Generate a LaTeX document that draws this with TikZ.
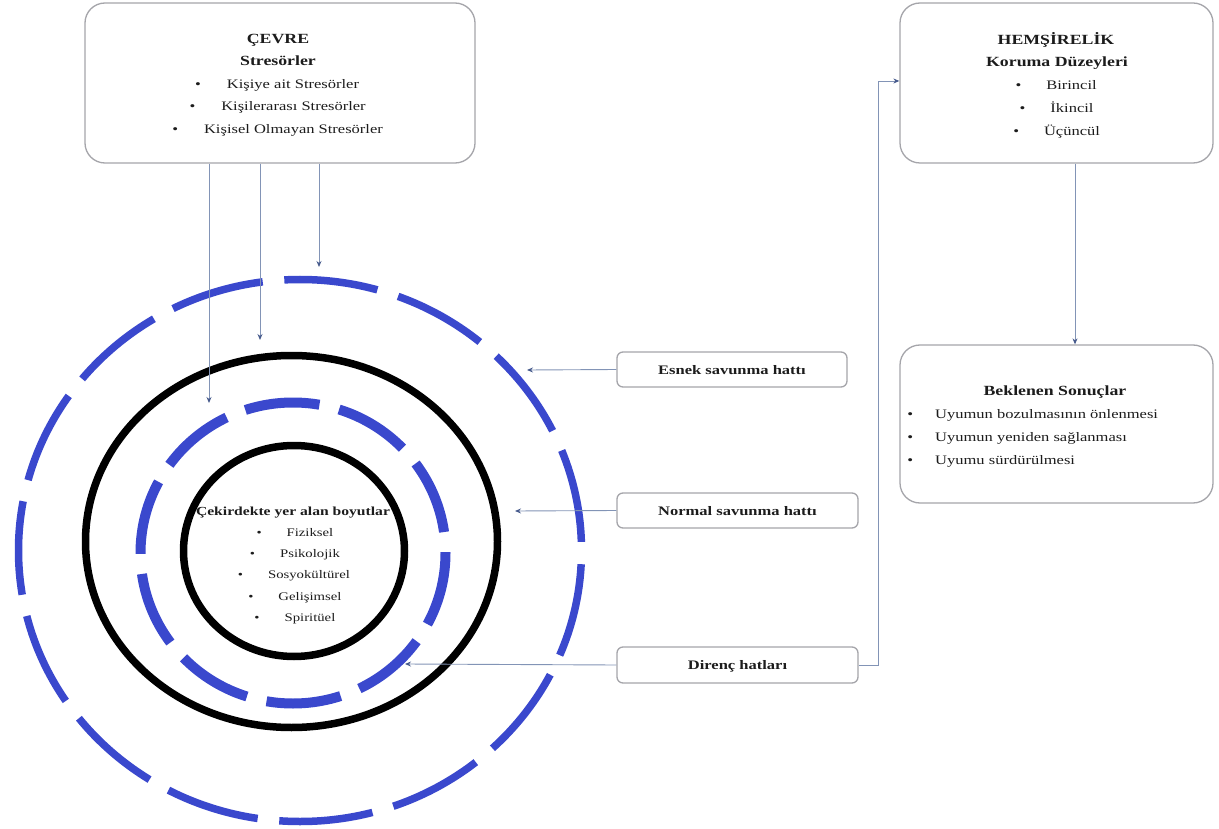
\documentclass[tikz,border=0pt]{standalone}
\usepackage{fontspec}
\setmainfont{Liberation Serif}[FakeStretch=1.27]
\usetikzlibrary{arrows.meta}
\definecolor{ringblue}{RGB}{58,72,205}
\definecolor{boxgray}{RGB}{165,165,170}
\definecolor{arrc}{RGB}{130,148,182}
\definecolor{tipc}{RGB}{70,90,140}
\definecolor{txtc}{RGB}{28,28,28}
\newcommand\mybul[1]{\llap{\textbullet\hspace{#1}}}
\tikzset{
  bigbox/.style={draw=boxgray, line width=1.3pt, rounded corners=20pt, fill=white, inner sep=0pt},
  smallbox/.style={draw=boxgray, line width=1.3pt, rounded corners=6pt, fill=white, inner sep=0pt},
  ln/.style={anchor=base, inner sep=0pt, text=txtc, font=\fontsize{13}{15}\selectfont},
  bln/.style={anchor=base, inner sep=0pt, text=txtc, font=\fontsize{14}{16}\selectfont\bfseries},
  sbln/.style={anchor=base, inner sep=0pt, text=txtc, font=\fontsize{13}{15}\selectfont\bfseries},
  cln/.style={anchor=base, inner sep=0pt, text=txtc, font=\fontsize{11.6}{14}\selectfont},
  lln/.style={anchor=base west, inner sep=0pt, text=txtc, font=\fontsize{13}{15}\selectfont},
  arr/.style={draw=arrc, line width=0.9pt, -{Stealth[length=6pt,width=5pt,color=tipc]}},
  blackring/.style={draw=black, line width=7.5pt},
  outerdash/.style={draw=ringblue, line width=7.5pt, dash pattern=on 94pt off 21.7pt, dash phase=102pt},
  innerdash/.style={draw=ringblue, line width=10pt, dash pattern=on 75pt off 20.2pt, dash phase=96pt},
}
\begin{document}
\begin{tikzpicture}[x=1pt,y=-1pt]
\useasboundingbox (0,0) rectangle (1219,829);

% rings
\draw[outerdash] (300,550.5) ellipse [x radius=281.5, y radius=271];
\draw[blackring] (291.5,541.5) ellipse [x radius=206, y radius=186];
\draw[innerdash] (293,553) ellipse [x radius=152.5, y radius=150.5];
\draw[blackring] (294,551) ellipse [x radius=110.5, y radius=105.5];

% core text
\node[cln, font=\fontsize{12.3}{14}\selectfont\bfseries] (core) at (293,515) {Çekirdekte yer alan boyutlar};
\node[cln] (c1) at (310,536) {\mybul{25pt}Fiziksel};
\node[cln] (c2) at (310,557) {\mybul{25pt}Psikolojik};
\node[cln] (c3) at (309,578) {\mybul{25pt}Sosyokültürel};
\node[cln] (c4) at (310,600) {\mybul{25pt}Gelişimsel};
\node[cln] (c5) at (310,621) {\mybul{25pt}Spiritüel};

% ÇEVRE box
\node[bigbox, minimum width=390pt, minimum height=160pt] (cevre) at (280,83) {};
\node[bln] (cv1) at (278,44) {ÇEVRE};
\node[bln] (cv2) at (278,66) {Stresörler};
\node[ln] (cv3) at (293,89) {\mybul{26pt}Kişiye ait Stresörler};
\node[ln] (cv4) at (293.5,111) {\mybul{26pt}Kişilerarası Stresörler};
\node[ln] (cv5) at (293.5,134) {\mybul{26pt}Kişisel Olmayan Stresörler};

% HEMŞİRELİK box
\node[bigbox, minimum width=313pt, minimum height=160pt] (hems) at (1056.5,83) {};
\node[bln] (h1) at (1056,45) {HEMŞİRELİK};
\node[bln] (h2) at (1057,67) {Koruma Düzeyleri};
\node[ln] (h3) at (1071.5,90) {\mybul{25pt}Birincil};
\node[ln] (h4) at (1072,113) {\mybul{25pt}İkincil};
\node[ln] (h5) at (1072,136) {\mybul{25pt}Üçüncül};

% Beklenen box
\node[bigbox, minimum width=313pt, minimum height=158pt] (bekl) at (1056.5,424) {};
\node[bln] (b1) at (1055,395) {Beklenen Sonuçlar};
\node[lln] (b2) at (935,418) {\mybul{22pt}Uyumun bozulmasının önlenmesi};
\node[lln] (b3) at (935,441) {\mybul{22pt}Uyumun yeniden sağlanması};
\node[lln] (b4) at (935,464) {\mybul{22pt}Uyumu sürdürülmesi};

% small boxes
\node[smallbox, minimum width=230pt, minimum height=35pt] (esnek) at (732,369.5) {};
\node[sbln] (et) at (732,374) {Esnek savunma hattı};
\node[smallbox, minimum width=241pt, minimum height=35pt] (normal) at (737.5,510.5) {};
\node[sbln] (nt) at (737.5,515) {Normal savunma hattı};
\node[smallbox, minimum width=241pt, minimum height=36pt] (direnc) at (737.5,665) {};
\node[sbln] (dt) at (737.5,669) {Direnç hatları};

% connector end points
\coordinate (t1) at (209,403);
\coordinate (t2) at (260,340);
\coordinate (t3) at (319,267);
\coordinate (te) at (527,370);
\coordinate (tn) at (515,511);
\coordinate (td) at (405,664);
\coordinate (bend) at (878,665);

% connectors
\draw[arr] ([xshift=-71pt]cevre.south) -- (t1);
\draw[arr] ([xshift=-20pt]cevre.south) -- (t2);
\draw[arr] ([xshift=39pt]cevre.south) -- (t3);
\draw[arr] (esnek.west) -- (te);
\draw[arr] (normal.west) -- (tn);
\draw[arr] (direnc.west) -- (td);
\draw[arr] (direnc.east) -- (bend) |- ([yshift=2pt]hems.west);
\draw[arr] ([xshift=18.5pt]hems.south) -- ([xshift=18.5pt]bekl.north);
\end{tikzpicture}
\end{document}
